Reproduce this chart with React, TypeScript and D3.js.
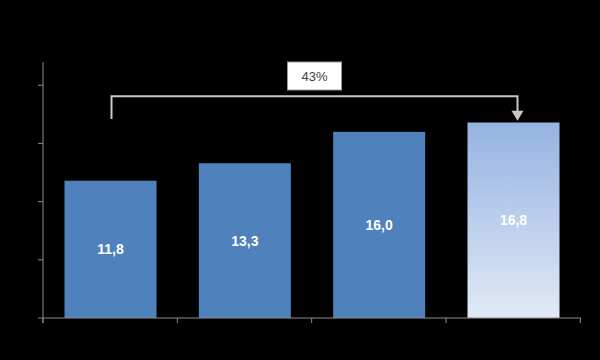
import React from 'react';
import * as d3 from 'd3';

// chart data
const categories = ['A', 'B', 'C', 'D'];
const values = [11.8, 13.3, 16.0, 16.8];
const valueLabels = ['11,8', '13,3', '16,0', '16,8'];
const growthLabel = '43%';
const yTicks = [0, 5, 10, 15, 20];

const W = 600;
const H = 360;
const margin = { top: 62, right: 19, bottom: 42, left: 43 };
const innerW = W - margin.left - margin.right;
const innerH = H - margin.top - margin.bottom;

const App = () => {
  const x = d3.scaleBand().domain(categories).range([0, innerW]).paddingInner(0.315).paddingOuter(0.16);
  const y = d3.scaleLinear().domain([0, 22]).range([innerH, 0]);
  const band = x.step();

  const first = categories[0];
  const last = categories[categories.length - 1];
  const bx1 = x(first)! + x.bandwidth() / 2 + 1;
  const bx2 = x(last)! + x.bandwidth() / 2 + 4;
  const bracketY = y(19.05);
  const startY = y(17.1);
  const arrowTip = y(16.95);
  const boxW = 54;
  const boxX = (bx1 + bx2) / 2 - boxW / 2;

  return (
    <svg width={W} height={H} style={{ display: 'block', position: 'absolute', left: 0, top: 0, background: '#000' }}>
      <defs>
        <linearGradient id="lastBar" x1="0" y1="0" x2="0" y2="1">
          <stop offset="0%" stopColor="#95B3E2" />
          <stop offset="100%" stopColor="#E1E9F6" />
        </linearGradient>
      </defs>
      <rect width={W} height={H} fill="#000" />
      <g transform={`translate(${margin.left},${margin.top})`}>
        {categories.map((c, i) => (
          <rect
            key={c}
            x={x(c)}
            y={y(values[i])}
            width={x.bandwidth()}
            height={innerH - y(values[i])}
            fill={i === categories.length - 1 ? 'url(#lastBar)' : '#4F81BD'}
          />
        ))}
        {categories.map((c, i) => (
          <text
            key={c}
            x={x(c)! + x.bandwidth() / 2}
            y={(y(values[i]) + innerH) / 2}
            dy="0.35em"
            textAnchor="middle"
            fill="#fff"
            fontFamily="'Liberation Sans', Arial, sans-serif"
            fontWeight="bold"
            fontSize={14}
          >
            {valueLabels[i]}
          </text>
        ))}
        {/* y axis */}
        <line x1={0} x2={0} y1={0} y2={innerH + 5} stroke="#8C8C8C" strokeWidth={1} />
        {yTicks.map(t => (
          <line key={t} x1={-5} x2={0} y1={y(t)} y2={y(t)} stroke="#8C8C8C" />
        ))}
        {/* x axis */}
        <line x1={0} x2={innerW} y1={innerH} y2={innerH} stroke="#8C8C8C" />
        {d3.range(categories.length + 1).map(i => (
          <line key={i} x1={i * band} x2={i * band} y1={innerH} y2={innerH + 5} stroke="#8C8C8C" />
        ))}
        {/* growth bracket */}
        <path
          d={`M${bx1},${startY}V${bracketY}H${bx2}V${arrowTip - 9}`}
          fill="none"
          stroke="#C8C8C8"
          strokeWidth={2}
        />
        <path d={`M${bx2 - 6},${arrowTip - 10}L${bx2 + 6},${arrowTip - 10}L${bx2},${arrowTip}Z`} fill="#C8C8C8" />
        <rect x={boxX} y={0} width={boxW} height={28} fill="#fff" stroke="#999" />
        <text
          x={boxX + boxW / 2}
          y={14}
          dy="0.35em"
          textAnchor="middle"
          fill="#404040"
          fontFamily="'Liberation Sans', Arial, sans-serif"
          fontSize={13}
        >
          {growthLabel}
        </text>
      </g>
    </svg>
  );
};

export default App;
